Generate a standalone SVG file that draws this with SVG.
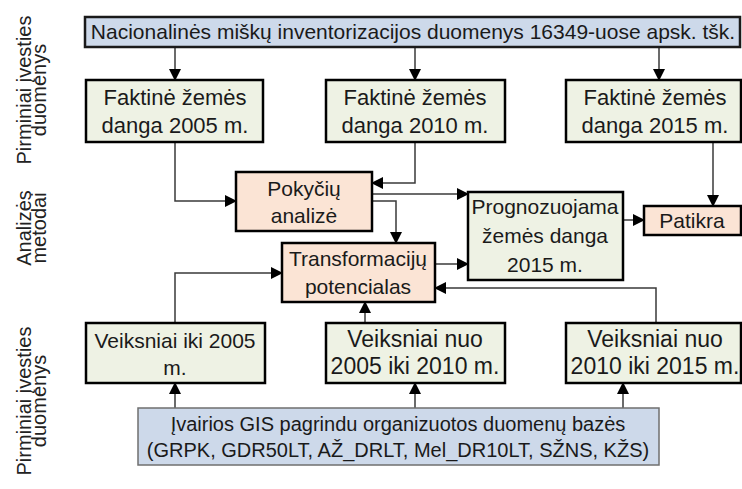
<svg xmlns="http://www.w3.org/2000/svg" width="742" height="489" viewBox="0 0 742 489">
<defs>
<marker id="ah" markerUnits="userSpaceOnUse" markerWidth="12" markerHeight="12" refX="11" refY="6" orient="auto">
<path d="M0,0 L12,6 L0,12 z" fill="#000"/>
</marker>
<style>
text{font-family:"Liberation Sans",Arial,sans-serif;fill:#1a1a1a;}
.t{font-size:20px;text-anchor:middle;}
.tb{font-size:21px;text-anchor:middle;}
.tf{font-size:22px;text-anchor:middle;}
.tv{font-size:23px;text-anchor:middle;}
.lab{font-size:20px;text-anchor:middle;fill:#222;}
.blue{fill:#cdd9ea;stroke:#1a1a1a;stroke-width:2.5;}
.blue2{fill:#cdd9ea;stroke:#6f6f6f;stroke-width:1.5;}
.green{fill:#eef2e4;stroke:#000;stroke-width:2.5;}
.orange{fill:#fbe4d5;stroke:#000;stroke-width:2.5;}
.c{fill:none;stroke:#3a3a3a;stroke-width:1.5;marker-end:url(#ah);}
</style>
</defs>

<g id="labels">
<text class="lab" transform="translate(31,90) rotate(-90)"><tspan x="0" y="0">Pirminiai įvesties</tspan><tspan x="0" y="15">duomenys</tspan></text>
<text class="lab" transform="translate(31,228) rotate(-90)"><tspan x="0" y="0">Analizės</tspan><tspan x="0" y="15">metodai</tspan></text>
<text class="lab" transform="translate(31,401) rotate(-90)"><tspan x="0" y="0">Pirminiai įvesties</tspan><tspan x="0" y="15">duomenys</tspan></text>
</g>

<g id="connectors">
<path class="c" d="M175,47 V80"/>
<path class="c" d="M415,47 V80"/>
<path class="c" d="M659,47 V80"/>
<path class="c" d="M175,142 V201 H236"/>
<path class="c" d="M415,142 V183 H372"/>
<path class="c" d="M372,194 H468"/>
<path class="c" d="M372,201 H396 V243"/>
<path class="c" d="M435,264 H468"/>
<path class="c" d="M623,220 H644"/>
<path class="c" d="M713,142 V206"/>
<path class="c" d="M656,323 V288 H435"/>
<path class="c" d="M175,323 V273 H282"/>
<path class="c" d="M365,323 V302"/>
<path class="c" d="M175,408 V383"/>
<path class="c" d="M415,408 V383"/>
<path class="c" d="M623,408 V383"/>
</g>

<g id="n-top">
<rect class="blue" x="85" y="17" width="655" height="30"/>
<text class="t" x="413" y="39" style="font-size:21px">Nacionalinės miškų inventorizacijos duomenys 16349-uose apsk. tšk.</text>
</g>

<g id="n-f2005">
<rect class="green" x="86" y="80" width="177" height="62"/>
<text class="tf" x="175" y="105">Faktinė žemės</text>
<text class="tf" x="175" y="133">danga 2005 m.</text>
</g>
<g id="n-f2010">
<rect class="green" x="326" y="80" width="179" height="62"/>
<text class="tf" x="415" y="105">Faktinė žemės</text>
<text class="tf" x="415" y="133">danga 2010 m.</text>
</g>
<g id="n-f2015">
<rect class="green" x="566" y="80" width="175" height="62"/>
<text class="tf" x="655" y="105">Faktinė žemės</text>
<text class="tf" x="655" y="133">danga 2015 m.</text>
</g>

<g id="n-pokyciu">
<rect class="orange" x="236" y="172" width="136" height="59"/>
<text class="tb" x="304" y="196">Pokyčių</text>
<text class="tb" x="304" y="223">analizė</text>
</g>

<g id="n-transform">
<rect class="orange" x="282" y="243" width="153" height="59"/>
<text class="tb" x="358" y="266">Transformacijų</text>
<text class="tb" x="358" y="294">potencialas</text>
</g>

<g id="n-prognoz">
<rect class="green" x="468" y="192" width="155" height="88"/>
<text class="tb" x="545" y="214">Prognozuojama</text>
<text class="tb" x="545" y="243">žemės danga</text>
<text class="tb" x="545" y="272">2015 m.</text>
</g>

<g id="n-patikra">
<rect class="orange" x="644" y="206" width="97" height="29"/>
<text class="tb" x="692" y="228">Patikra</text>
</g>

<g id="n-v2005">
<rect class="green" x="86" y="323" width="179" height="60"/>
<text class="tb" x="175" y="348">Veiksniai iki 2005</text>
<text class="tb" x="175" y="375">m.</text>
</g>
<g id="n-v2010">
<rect class="green" x="326" y="323" width="179" height="60"/>
<text class="tv" x="415" y="347">Veiksniai nuo</text>
<text class="tv" x="415" y="374">2005 iki 2010 m.</text>
</g>
<g id="n-v2015">
<rect class="green" x="566" y="323" width="175" height="60"/>
<text class="tv" x="655" y="347">Veiksniai nuo</text>
<text class="tv" x="655" y="374">2010 iki 2015 m.</text>
</g>

<g id="n-gis">
<rect class="blue2" x="138" y="408" width="521" height="57"/>
<text class="t" x="398" y="431">Įvairios GIS pagrindu organizuotos duomenų bazės</text>
<text class="t" x="398" y="457">(GRPK, GDR50LT, AŽ_DRLT, Mel_DR10LT, SŽNS, KŽS)</text>
</g>
</svg>
